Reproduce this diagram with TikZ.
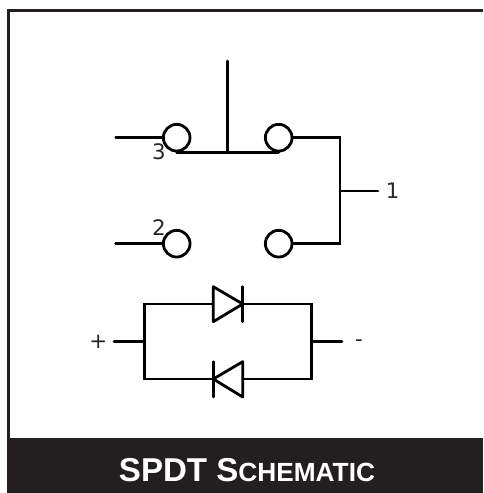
\documentclass[tikz,border=0pt]{standalone}
\usepackage{fontspec}
\setmainfont{DejaVu Sans}
\newfontfamily\bannerfont{Liberation Sans}
\definecolor{bannerblack}{HTML}{231F20}
\tikzset{wire/.style={line width=2.1pt, line cap=round, line join=miter},
  contact/.style={circle, draw, line width=2.1pt, minimum size=20pt, inner sep=0pt},
  pinlabel/.style={inner sep=0pt, text=black!85, font=\fontsize{16}{16}\selectfont},
  diode/.style={wire, line join=round}}
\begin{document}
\begin{tikzpicture}[x=0.75pt,y=-0.75pt]
\useasboundingbox (0,0) rectangle (483,493);
% frame and banner
\draw[line width=2pt, color=bannerblack] (8.3,438) -- (8.3,10.3) -- (483,10.3);
\fill[bannerblack] (7,438) rectangle (483,493);
\node[text=white, inner sep=0pt, font=\bannerfont\bfseries\fontsize{24.8}{24.8}\selectfont] (title) at (247,470)
  {SPDT S{\fontsize{19.7}{19.7}\selectfont CHEMATIC}};
% switch
\node[contact] (c3) at (176.7,137.7) {};
\node[contact] (c1) at (278.7,137.7) {};
\node[contact] (c2) at (176.7,243.7) {};
\node[contact] (c4) at (278.7,243.7) {};
\coordinate (in3) at (115.7,137.7);
\coordinate (in2) at (115.7,243.7);
\coordinate (top) at (227.3,61);
\coordinate (mid) at (227.3,151);
\coordinate (corner1) at (340,137.7);
\coordinate (corner2) at (340,243.7);
\coordinate (tap) at (340,191);
\coordinate (out1) at (378,191);
\draw[wire] (in3) -- (c3.west);
\draw[wire] (in2) -- (c2.west);
\draw[wire] (top) -- (mid);
\draw[wire] (c3.south) -- (c1.south);
\draw[wire, line cap=butt] (c1.east) -- (corner1) -- (corner2) -- (c4.east);
\draw[wire] (tap) -- (out1);
\node[pinlabel] (l1) at (392.7,191) {1};
\node[pinlabel] (l3) at (159,151.5) {3};
\node[pinlabel] (l2) at (159,227.5) {2};
% diodes
\coordinate (nw) at (144.3,304);
\coordinate (ne) at (311.3,304);
\coordinate (sw) at (144.3,379);
\coordinate (se) at (311.3,379);
\coordinate (lm) at (144.3,341.7);
\coordinate (rm) at (311.3,341.7);
\coordinate (plus) at (114,341.7);
\coordinate (minus) at (342,341.7);
\draw[wire, line cap=butt] (213.3,304) -- (nw) -- (sw) -- (213.3,379);
\draw[wire, line cap=butt] (242.7,304) -- (ne) -- (se) -- (242.7,379);
\draw[wire] (plus) -- (lm);
\draw[wire] (rm) -- (minus);
\draw[diode] (213.3,286.7) -- (242.7,304) -- (213.3,321.7) -- cycle;
\draw[wire] (242.7,286.7) -- (242.7,321.7);
\draw[diode] (242.7,361.7) -- (213.3,379) -- (242.7,397) -- cycle;
\draw[wire] (213.3,361.7) -- (213.3,397);
\node[pinlabel] (lp) at (98.3,341.5) {+};
\node[pinlabel] (lm2) at (359,343.5) {-};
\end{tikzpicture}
\end{document}
